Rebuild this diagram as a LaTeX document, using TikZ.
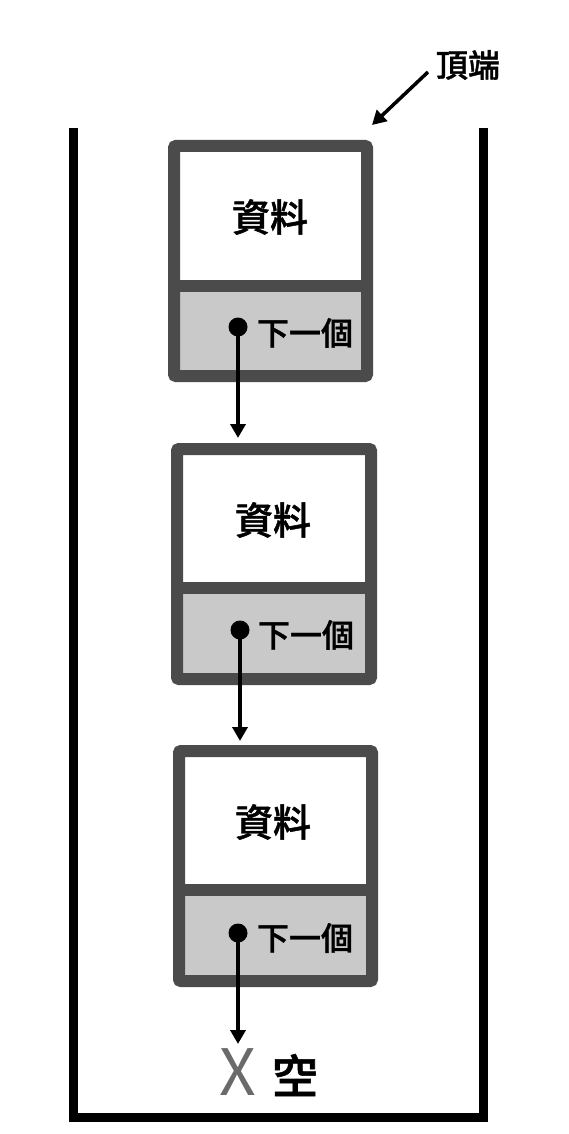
\documentclass[tikz,border=0pt]{standalone}
\usepackage{fontspec}
\newfontfamily\cjk{Noto Sans CJK TC}
\newfontfamily\cjkm{Noto Sans CJK TC Medium}[FakeBold=1.2]
\usetikzlibrary{arrows.meta}
\definecolor{boxgray}{HTML}{4B4B4B}
\definecolor{lowgray}{HTML}{C9C9C9}
\definecolor{xgray}{HTML}{6A6A6A}
\tikzset{
  cell/.style={draw=boxgray, line width=12pt, rectangle, rounded corners=2pt, inner sep=0pt, minimum width=193pt, minimum height=230pt},
  datatxt/.style={font=\cjkm\fontsize{38}{42}\selectfont, inner sep=0pt},
  nexttxt/.style={font=\cjkm\fontsize{32}{36}\selectfont, inner sep=0pt},
  ptr/.style={circle, fill=black, inner sep=0pt, minimum size=19pt},
  arr/.style={line width=3.5pt, -{Triangle[length=14pt,width=15pt]}},
  wall/.style={line width=9pt, line join=miter, line cap=butt},
}
\begin{document}
\begin{tikzpicture}[x=1pt,y=-1pt]
\useasboundingbox (0,0) rectangle (568,1134);
% container
\draw[wall] (73.5,128) -- (73.5,1117.5) -- (483,1117.5) -- (483,128);
% box fills (three boxes)
\foreach \cx/\cy/\dv in {270.5/261/285.5, 274/564/587.5, 275.5/866/889.5}{
  \fill[white] (\cx-96.5,\cy-115) rectangle (\cx+96.5,\cy+115);
  \fill[lowgray] (\cx-96.5,\dv) rectangle (\cx+96.5,\cy+115);
  \draw[boxgray, line width=12pt] (\cx-96.5,\dv) -- (\cx+96.5,\dv);
}
\node[cell] (b1) at (270.5,261) {};
\node[cell, minimum width=194pt] (b2) at (274,564) {};
\node[cell] (b3) at (275.5,866) {};
% texts
\node[datatxt] (d1) at (270,217) {資料};
\node[datatxt] (d2) at (273,520) {資料};
\node[datatxt] (d3) at (273,822) {資料};
\node[nexttxt] (n1) at (305,333) {下一個};
\node[nexttxt] (n2) at (306,635) {下一個};
\node[nexttxt] (n3) at (305,938) {下一個};
% pointers
\node[ptr] (p1) at (238,327) {};
\node[ptr] (p2) at (240,630) {};
\node[ptr] (p3) at (238,933) {};
\coordinate (t1) at (238,438);
\coordinate (t2) at (240,741);
\coordinate (t3) at (238,1044);
\draw[arr] (p1.center) -- (t1);
\draw[arr] (p2.center) -- (t2);
\draw[arr] (p3.center) -- (t3);
% null
\node[font=\cjk\fontsize{64}{70}\selectfont, text=xgray, inner sep=0pt] (x) at (238,1072) {X};
\node[font=\cjkm\fontsize{46}{50}\selectfont, inner sep=0pt] (empty) at (295,1075) {空};
% top label
\node[font=\cjkm\fontsize{32}{36}\selectfont, inner sep=0pt] (top) at (468,65) {頂端};
\coordinate (topend) at (372,125);
\draw[arr] (428,72) -- (topend);
\end{tikzpicture}
\end{document}
